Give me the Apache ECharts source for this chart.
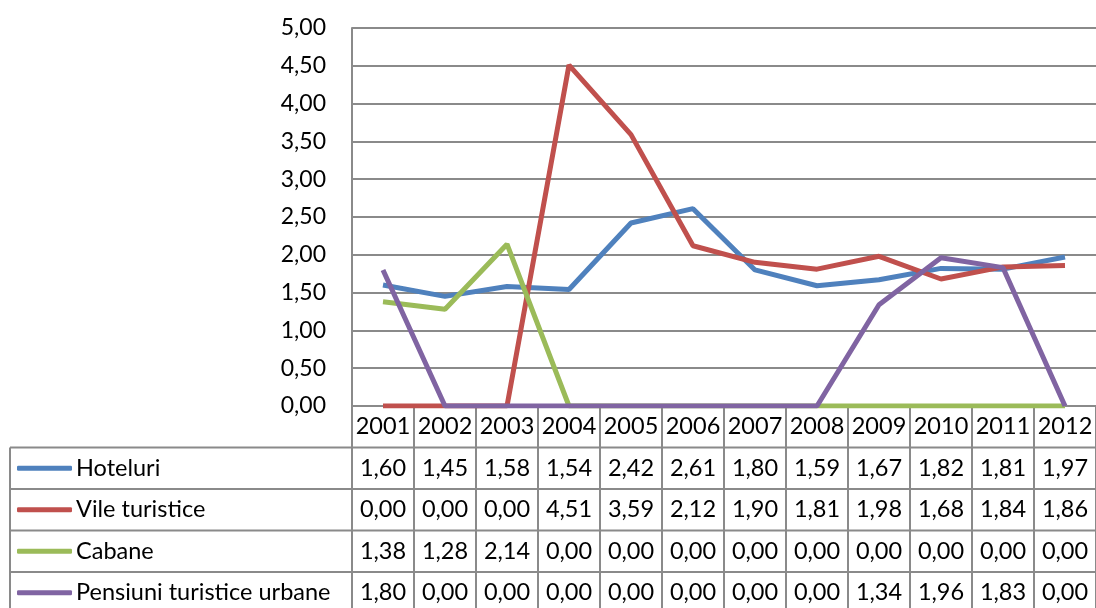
<!DOCTYPE html>
<html>
<head>
<meta charset="utf-8">
<script src="https://cdn.jsdelivr.net/npm/echarts@6/dist/echarts.min.js"></script>
<style>
  html, body { margin: 0; padding: 0; background: #fff; }
  #main { width: 1096px; height: 608px; }
</style>
</head>
<body>
<div id="main"></div>
<script>
var years = ["2001", "2002", "2003", "2004", "2005", "2006", "2007", "2008", "2009", "2010", "2011", "2012"];
var seriesNames = ["Hoteluri", "Vile turistice", "Cabane", "Pensiuni turistice urbane"];
var hoteluri = [1.60, 1.45, 1.58, 1.54, 2.42, 2.61, 1.80, 1.59, 1.67, 1.82, 1.81, 1.97];
var vile = [0.00, 0.00, 0.00, 4.51, 3.59, 2.12, 1.90, 1.81, 1.98, 1.68, 1.84, 1.86];
var cabane = [1.38, 1.28, 2.14, 0.00, 0.00, 0.00, 0.00, 0.00, 0.00, 0.00, 0.00, 0.00];
var pensiuni = [1.80, 0.00, 0.00, 0.00, 0.00, 0.00, 0.00, 0.00, 1.34, 1.96, 1.83, 0.00];
var colors = ["#4F81BD", "#C0504D", "#9BBB59", "#8064A2"];

var chartDom = document.getElementById("main");
var myChart = echarts.init(chartDom);
var option;

var FONT = "Lato";
var FS = 23.5;
var GRAY = "#8a8a8a";
var rowH = 41.5; // table row height
var plotBottom = 406;
var tableLeft = 10;

function fmt(v) {
  return v.toFixed(2).replace(".", ",");
}

var allData = [hoteluri, vile, cabane, pensiuni];

// x axes: first one carries the plot and the year header, the others are the table rows
var xAxes = [
  {
    type: "category",
    data: years,
    position: "bottom",
    boundaryGap: true,
    axisLine: { lineStyle: { color: GRAY, width: 2 } },
    axisTick: { show: true, interval: 0, length: 202, lineStyle: { color: GRAY, width: 2 } },
    axisLabel: {
      interval: 0, margin: rowH / 2, verticalAlign: "middle",
      color: "#000", fontFamily: FONT, fontSize: FS
    }
  }
];
allData.forEach(function (arr, i) {
  xAxes.push({
    type: "category",
    data: arr.map(fmt),
    position: "bottom",
    offset: rowH * (i + 1),
    boundaryGap: true,
    axisLine: { show: false },
    axisTick: { show: false },
    axisLabel: {
      interval: 0, margin: rowH / 2, verticalAlign: "middle",
      color: "#000", fontFamily: FONT, fontSize: FS
    }
  });
});

// horizontal lines of the table
var graphics = [];
for (var r = 1; r <= 4; r++) {
  var y = plotBottom + rowH * r;
  graphics.push({
    type: "line",
    shape: { x1: tableLeft, y1: y, x2: 1096, y2: y },
    style: { stroke: GRAY, lineWidth: 2 }
  });
}
graphics.push({
  type: "line",
  shape: { x1: tableLeft, y1: plotBottom + rowH, x2: tableLeft, y2: 608 },
  style: { stroke: GRAY, lineWidth: 2 }
});

// one legend per table row
var legends = seriesNames.map(function (name, i) {
  return {
    orient: "vertical",
    left: 17,
    top: plotBottom + rowH * (i + 1) + (rowH - 26) / 2,
    padding: 0,
    itemWidth: 55,
    itemHeight: 5,
    itemGap: 0,
    icon: "roundRect",
    itemStyle: { borderWidth: 0 },
    textStyle: { fontFamily: FONT, fontSize: FS, color: "#000", lineHeight: 26, padding: [0, 0, 0, -1] },
    data: [name]
  };
});

option = {
  animation: false,
  color: colors,
  grid: { left: 352, top: 28, right: -6, bottom: 608 - plotBottom },
  legend: legends,
  xAxis: xAxes,
  yAxis: {
    type: "value",
    min: 0,
    max: 5,
    interval: 0.5,
    axisLine: { show: true, lineStyle: { color: GRAY, width: 2 } },
    axisTick: { show: false },
    splitLine: { lineStyle: { color: GRAY, width: 2 } },
    axisLabel: {
      margin: 26,
      color: "#000", fontFamily: FONT, fontSize: 23,
      formatter: function (v) { return fmt(v); }
    }
  },
  graphic: graphics,
  series: allData.map(function (arr, i) {
    return {
      name: seriesNames[i],
      type: "line",
      data: arr,
      symbol: "none",
      lineStyle: { width: 5, color: colors[i] },
      itemStyle: { color: colors[i] }
    };
  })
};

option && myChart.setOption(option);
</script>
</body>
</html>
